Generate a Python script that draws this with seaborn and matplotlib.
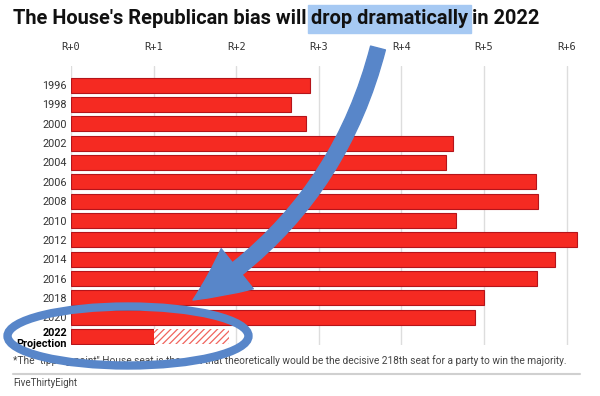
import numpy as np
import pandas as pd
import matplotlib
matplotlib.use("Agg")
import matplotlib.pyplot as plt
import seaborn as sns
from matplotlib.patches import Ellipse, Rectangle, FancyArrowPatch, ArrowStyle
from matplotlib.lines import Line2D
from matplotlib.transforms import IdentityTransform

# data
years = ["1996", "1998", "2000", "2002", "2004", "2006", "2008", "2010",
         "2012", "2014", "2016", "2018", "2020", "2022\nProjection"]
bias = [2.89, 2.66, 2.85, 4.62, 4.54, 5.63, 5.65, 4.66,
        6.13, 5.86, 5.64, 5.00, 4.89, 1.00]
proj_low = 1.00
proj_high = 1.91
ticks = [0, 1, 2, 3, 4, 5, 6]
tick_labels = ["R+0", "R+1", "R+2", "R+3", "R+4", "R+5", "R+6"]

W, H = 600, 396

sns.set_theme(style="white")
plt.rcParams['font.family'] = ['Roboto', 'DejaVu Sans']
plt.rcParams['hatch.linewidth'] = 0.9

fig = plt.figure(figsize=(W / 100, H / 100), dpi=100)
ax = fig.add_axes([71 / W, 51 / H, 519 / W, 279.3 / H])

df = pd.DataFrame({"year": years, "bias": bias})
sns.barplot(data=df, x="bias", y="year", orient="h", color="#f52a22",
            saturation=1, width=0.775, edgecolor="#b5141a", linewidth=0.8, ax=ax)
# hatched part of the projection range
ax.barh(len(years) - 1, proj_high - proj_low, left=proj_low, height=0.775,
        facecolor="white", edgecolor="#f0655e", hatch="/////", linewidth=0)

ax.set_xlim(0, 519 / 82.6)
ax.set_ylim(13.43, -1.0)
ax.set_xlabel("")
ax.set_ylabel("")
ax.xaxis.tick_top()
ax.set_xticks(ticks)
ax.set_xticklabels(tick_labels)
ax.tick_params(axis="x", length=0, pad=10, labelsize=7.5, labelcolor="#333333",
               labelfontfamily="DejaVu Sans Mono")
ax.tick_params(axis="y", length=0, pad=3, labelsize=7.8, labelcolor="#333333")
last = ax.get_yticklabels()[-1]
last.set_fontweight("bold")
last.set_color("black")
ax.grid(axis="x", color="#dddddd", lw=1)
ax.set_axisbelow(True)
for s in ax.spines.values():
    s.set_visible(False)
ax.axvline(0, color="#555555", lw=1.4, zorder=0.5)

# title in three pieces, middle one highlighted
renderer = fig.canvas.get_renderer()
pieces = ["The House's Republican bias will", "drop dramatically", "in 2022"]
fs = 14.4
x = 13
space = 4.5
exts = []
for p in pieces:
    t = fig.text(x / W, 1 - 19 / H, p, fontsize=fs, fontweight="bold",
                 color="#111111", va="center", ha="left")
    bb = t.get_window_extent(renderer)
    exts.append((x, bb.width))
    x += bb.width + space
hx, hw = exts[1]
fig.add_artist(Rectangle(((hx - 3) / W, 1 - 33 / H), (hw + 6) / W, 28 / H,
                         transform=fig.transFigure, color="#a6c9f3", zorder=0))

# footnote and source
foot = ('*The "tipping-point" House seat is the seat that theoretically would be '
        'the decisive 218th seat for a party to win the majority.')
ft = fig.text(13 / W, 1 - 361 / H, foot, fontsize=7, color="#444444", va="center")
w = ft.get_window_extent(renderer).width
ft.set_fontsize(7 * 559 / w)
fig.add_artist(Line2D([13 / W, 580 / W], [1 - 374 / H] * 2, color="#d0d0d0", lw=1.5))
fig.text(13 / W, 1 - 383 / H, "FiveThirtyEight", fontsize=7, color="#444444", va="center")

# blue annotation arrow and ellipse
blue = "#5886c9"
arrow = FancyArrowPatch(posA=(378, H - 48), posB=(193, H - 300),
                        transform=IdentityTransform(),
                        connectionstyle="arc3,rad=-0.2",
                        arrowstyle=ArrowStyle.Simple(head_length=39, head_width=37, tail_width=11),
                        shrinkA=0, shrinkB=0, color=blue, zorder=10)
fig.add_artist(arrow)
fig.add_artist(Ellipse((128, H - 336), 241, 59, transform=IdentityTransform(),
                       fill=False, edgecolor=blue, lw=6, zorder=10))

fig.savefig("out.png", dpi=100)
